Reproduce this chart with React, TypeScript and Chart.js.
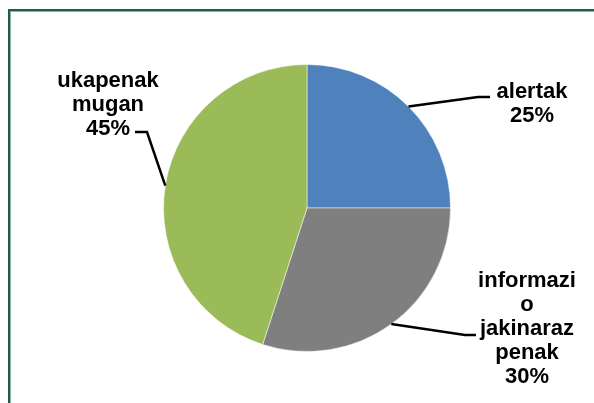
import React, { useEffect, useRef } from "react";
import { Chart, registerables } from "chart.js";

Chart.register(...registerables);

const categories = ["alertak", "informazio jakinarazpenak", "ukapenak mugan"];
const values = [25, 30, 45];
const percentLabels = ["25%", "30%", "45%"];
const labelLines = [["alertak"], ["informazi", "o", "jakinaraz", "penak"], ["ukapenak", "mugan"]];
const colors = ["#4F81BD", "#7F7F7F", "#9BBB59"];

// label layout relative to pie center: elbow, end of leader line, text anchor (center x, first baseline)
const labelLayout = [
  { elbow: [171, -111], end: [183, -111], text: [225, -110] },
  { elbow: [158, 127], end: [169, 127], text: [220, 79] },
  { elbow: [-160, -76], end: [-172, -76], text: [-199, -121] },
];

const overlayPlugin = {
  id: "overlay",
  beforeDraw(chart: any) {
    const ctx = chart.ctx;
    ctx.save();
    ctx.fillStyle = "#ffffff";
    ctx.fillRect(0, 0, chart.width, chart.height);
    ctx.fillStyle = "#1F5E4C";
    ctx.fillRect(8, 9, 2, chart.height);
    ctx.fillRect(8, 9, chart.width, 2);
    ctx.fillStyle = "#8DB3A5";
    ctx.fillRect(10, 11, 1, chart.height);
    ctx.fillRect(10, 11, chart.width, 1);
    ctx.restore();
  },
  afterDatasetsDraw(chart: any) {
    const ctx = chart.ctx;
    const meta = chart.getDatasetMeta(0);
    ctx.save();
    meta.data.forEach((arc: any, i: number) => {
      const { x, y, startAngle, endAngle, outerRadius } = arc.getProps(
        ["x", "y", "startAngle", "endAngle", "outerRadius"],
        true
      );
      const mid = (startAngle + endAngle) / 2;
      const sx = x + Math.cos(mid) * outerRadius;
      const sy = y + Math.sin(mid) * outerRadius;
      const lay = labelLayout[i];
      ctx.strokeStyle = "#000000";
      ctx.lineWidth = 2.5;
      ctx.lineJoin = "miter";
      ctx.beginPath();
      ctx.moveTo(sx, sy);
      ctx.lineTo(x + lay.elbow[0], y + lay.elbow[1]);
      ctx.lineTo(x + lay.end[0], y + lay.end[1]);
      ctx.stroke();

      const lines = [...labelLines[i], percentLabels[i]];
      ctx.fillStyle = "#000000";
      ctx.font = "bold 22px 'Liberation Sans', Arial, sans-serif";
      ctx.textAlign = "center";
      ctx.textBaseline = "alphabetic";
      lines.forEach((ln, k) => {
        ctx.fillText(ln, x + lay.text[0], y + lay.text[1] + k * 24);
      });
    });
    ctx.restore();
  },
};

export default function App() {
  const ref = useRef<HTMLCanvasElement | null>(null);
  useEffect(() => {
    if (!ref.current) return;
    const chart = new Chart(ref.current, {
      type: "pie",
      data: {
        labels: categories,
        datasets: [
          {
            data: values,
            backgroundColor: colors,
            borderColor: "rgba(255,255,255,0.5)",
            borderWidth: 1,
          },
        ],
      },
      options: {
        responsive: false,
        animation: false,
        layout: { padding: { left: 163, right: 143, top: 64, bottom: 51 } },
        plugins: { legend: { display: false }, tooltip: { enabled: false } },
      },
      plugins: [overlayPlugin],
    });
    return () => chart.destroy();
  }, []);
  return (
    <div style={{ position: "fixed", left: 0, top: 0, width: 594, height: 403, overflow: "hidden", background: "#fff" }}>
      <canvas ref={ref} width={594} height={403} style={{ width: 594, height: 403 }} />
    </div>
  );
}
